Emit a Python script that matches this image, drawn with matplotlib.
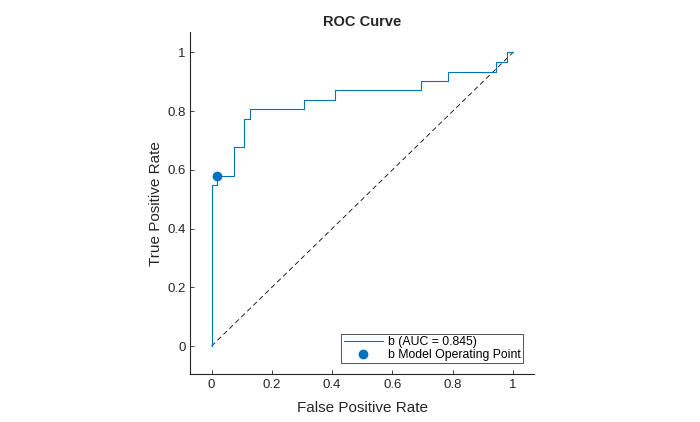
import matplotlib.pyplot as plt

plt.rcParams['font.family'] = ['Liberation Sans', 'DejaVu Sans']

# ROC curve step points
fpr = [0.0, 0.0, 0.0188, 0.0188, 0.074, 0.074, 0.109, 0.109, 0.127, 0.127,
       0.306, 0.306, 0.410, 0.410, 0.694, 0.694, 0.784, 0.784, 0.944, 0.944,
       0.979, 0.979, 1.0]
tpr = [0.0, 0.548, 0.548, 0.581, 0.581, 0.677, 0.677, 0.774, 0.774, 0.806,
       0.806, 0.839, 0.839, 0.871, 0.871, 0.903, 0.903, 0.935, 0.935, 0.968,
       0.968, 1.0, 1.0]
op_fpr = 0.0188
op_tpr = 0.581
auc = 0.845

ticks = [0, 0.2, 0.4, 0.6, 0.8, 1]
tick_labels = ['0', '0.2', '0.4', '0.6', '0.8', '1']

blue = '#0072BD'

fig = plt.figure(figsize=(7, 4.22), dpi=100)
ax = fig.add_axes([0.272, 0.113, 0.491, 0.81])

ax.plot([0, 1], [0, 1], color='black', linestyle=(0, (6, 4)), linewidth=0.6)
ax.plot(fpr, tpr, color=blue, linewidth=0.8, label=f'b (AUC = {auc})')
ax.plot([op_fpr], [op_tpr], 'o', color=blue, markersize=6,
        label='b Model Operating Point')

ax.set_xlim(-0.07, 1.07)
ax.set_ylim(-0.096, 1.068)
ax.set_xticks(ticks)
ax.set_xticklabels(tick_labels)
ax.set_yticks(ticks)
ax.set_yticklabels(tick_labels)
ax.tick_params(direction='in', length=3, width=0.6, labelsize=9.5, colors='#262626')
for side in ['top', 'right']:
    ax.spines[side].set_visible(False)
for side in ['left', 'bottom']:
    ax.spines[side].set_linewidth(0.8)
    ax.spines[side].set_color('#262626')

ax.set_title('ROC Curve', fontsize=10.5, fontweight='bold', color='#262626', pad=5)
ax.set_xlabel('False Positive Rate', fontsize=11, color='#262626', labelpad=7)
ax.set_ylabel('True Positive Rate', fontsize=11, color='#262626', labelpad=3)

leg = ax.legend(loc='lower right', fontsize=8.8, frameon=True, fancybox=False,
                borderaxespad=0.9, handlelength=3.2, handletextpad=0.4,
                borderpad=0.2, labelspacing=0.05)
leg.get_frame().set_edgecolor('#262626')
leg.get_frame().set_linewidth(0.7)

fig.savefig('out.png', dpi=100)
